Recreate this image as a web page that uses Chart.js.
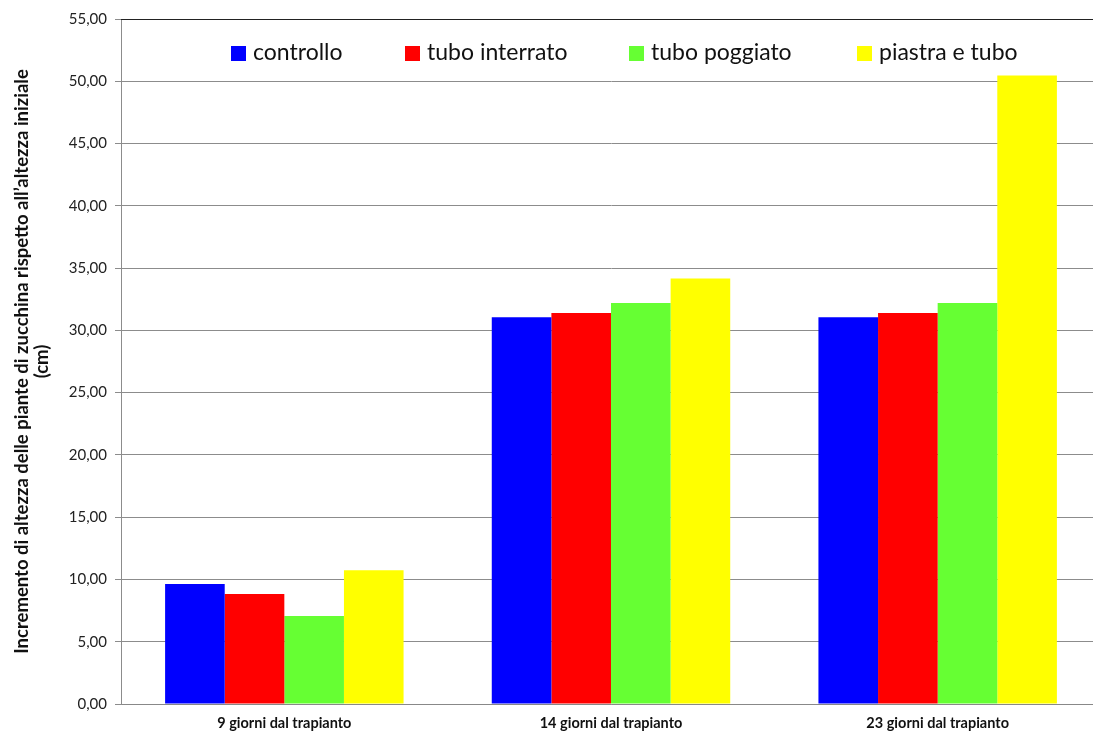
<!DOCTYPE html>
<html>
<head>
<meta charset="utf-8">
<script src="https://cdn.jsdelivr.net/npm/chart.js@4"></script>
<style>
    html, body { margin: 0; padding: 0; background: #fff; overflow: hidden; }
    #wrap { width: 1093px; height: 733px; overflow: hidden; }
</style>
</head>
<body>
<div id="wrap"><canvas id="growthChart" width="1101" height="733"></canvas></div>
<script>
const giorni = ['9 giorni dal trapianto', '14 giorni dal trapianto', '23 giorni dal trapianto'];

const controllo = [9.64, 31.05, 31.05];
const tuboInterrato = [8.83, 31.4, 31.4];
const tuboPoggiato = [7.07, 32.2, 32.2];
const piastraETubo = [10.73, 34.16, 50.47];

const serieNomi = ['controllo', 'tubo interrato', 'tubo poggiato', 'piastra e tubo'];
const serieColori = ['#0000ff', '#ff0000', '#66ff33', '#ffff00'];

const yTitolo = ['Incremento di altezza delle piante di zucchina rispetto all\u2019altezza iniziale', '(cm)'];

const fontBase = 'Lato, "Open Sans", sans-serif';

// legend drawn inside the plot, spread across the top
const legendaInterna = {
    id: 'legendaInterna',
    afterDraw(chart) {
        const ctx = chart.ctx;
        const area = chart.chartArea;
        const offsets = [110, 284, 508, 736];
        const y = area.top + 34;
        ctx.save();
        ctx.font = '23px ' + fontBase;
        ctx.textBaseline = 'middle';
        ctx.textAlign = 'left';
        serieNomi.forEach((nome, i) => {
            const x = area.left + offsets[i];
            ctx.fillStyle = serieColori[i];
            ctx.fillRect(x, y - 7, 15, 15);
            ctx.fillStyle = '#111';
            ctx.fillText(nome, x + 22, y);
        });
        ctx.restore();
    }
};

// dark line along the top of the plot area
const bordoSuperiore = {
    id: 'bordoSuperiore',
    afterDraw(chart) {
        const ctx = chart.ctx;
        const area = chart.chartArea;
        ctx.save();
        ctx.strokeStyle = '#222';
        ctx.lineWidth = 1;
        ctx.beginPath();
        ctx.moveTo(area.left, area.top + 0.5);
        ctx.lineTo(area.right, area.top + 0.5);
        ctx.stroke();
        ctx.restore();
    }
};

const datasets = [controllo, tuboInterrato, tuboPoggiato, piastraETubo].map((valori, i) => ({
    label: serieNomi[i],
    data: valori,
    backgroundColor: serieColori[i],
    borderWidth: 0,
    categoryPercentage: 0.73,
    barPercentage: 1.0
}));

new Chart(document.getElementById('growthChart').getContext('2d'), {
    type: 'bar',
    data: {
        labels: giorni,
        datasets: datasets
    },
    options: {
        responsive: false,
        animation: false,
        layout: { padding: { top: 19, right: 0, left: 0, bottom: 0 } },
        plugins: {
            legend: { display: false },
            tooltip: { enabled: false }
        },
        scales: {
            x: {
                grid: { display: false },
                border: { display: true, color: '#888' },
                ticks: {
                    color: '#111',
                    font: { family: fontBase, size: 14.5, weight: 'bold' },
                    padding: 3
                },
                afterFit(scale) { scale.height = 29; }
            },
            y: {
                min: 0,
                max: 55,
                ticks: {
                    stepSize: 5,
                    color: '#222',
                    padding: 8,
                    font: { family: fontBase, size: 15 },
                    callback: v => v.toFixed(2).replace('.', ',')
                },
                grid: {
                    color: '#8c8c8c',
                    tickLength: 6,
                    drawTicks: true
                },
                border: { display: true, color: '#8c8c8c' },
                title: {
                    display: true,
                    text: yTitolo,
                    color: '#111',
                    font: { family: fontBase, size: 18.5, weight: 'bold', lineHeight: 1.1 },
                    padding: { top: 12, bottom: 0 }
                },
                afterFit(scale) { scale.width = 121; }
            }
        }
    },
    plugins: [legendaInterna, bordoSuperiore]
});
</script>
</body>
</html>
